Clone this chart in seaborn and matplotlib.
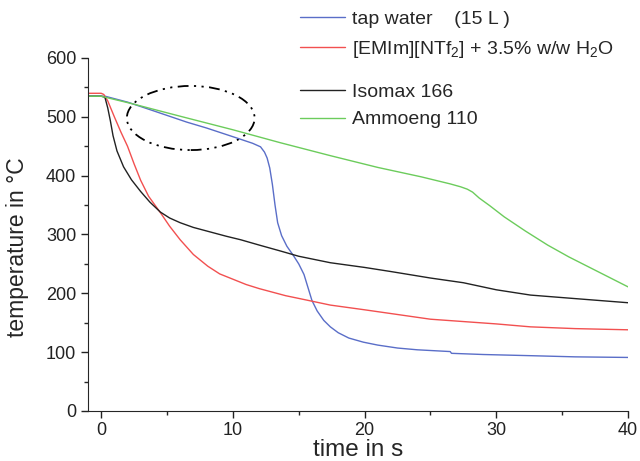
import pandas as pd
import matplotlib.pyplot as plt
import seaborn as sns
from matplotlib.patches import Ellipse
from matplotlib.lines import Line2D
from matplotlib.ticker import MultipleLocator

tap_x = [-1, 0, 0.3, 2, 4, 6.5, 8, 10.3, 11.5, 12.1, 12.4, 12.6, 12.8, 13.0, 13.2, 13.4, 13.7,
         14.1, 14.6, 15.0, 15.4, 15.7, 16.0, 16.4, 16.9, 17.4, 18.0, 18.8, 19.9, 21, 22.5, 24,
         26.5, 26.6, 29, 32.6, 36, 40]
tap_y = [535, 535, 535, 525, 510, 491, 481, 464, 455, 449, 440, 430, 413, 385, 350, 320, 298,
         280, 264, 250, 232, 210, 188, 170, 154, 143, 133, 124, 117, 112, 107, 104,
         101, 98, 96, 94, 92, 91]

emim_x = [-1, 0, 0.2, 0.5, 1.0, 1.5, 2.0, 2.5, 3.0, 3.6, 4.5, 5.2, 6, 7, 8.1, 9, 10, 11, 12,
          14, 15.5, 17.4, 20, 25, 30, 32.6, 36, 40]
emim_y = [540, 540, 538, 527, 500, 474, 450, 420, 392, 365, 337, 314, 291, 266, 246, 233, 224, 215, 208,
          196, 189, 180, 172, 156, 148, 143, 140, 138]

isomax_x = [-1, 0, 0.2, 0.3, 0.5, 0.7, 0.9, 1.2, 1.7, 2.3, 3.0, 3.7, 4.5, 5.2, 6, 7, 8.5, 9.5,
            10.6, 12, 13.6, 15, 17.4, 20, 22, 25, 27.5, 30, 32.6, 36, 40]
isomax_y = [535, 535, 534, 532, 515, 493, 468, 442, 415, 393, 373, 355, 338, 328, 320, 312, 303, 297,
            291, 282, 272, 263, 252, 244, 237, 226, 218, 206, 197, 191, 184]

ammoeng_x = [-1, 0, 2.4, 6, 10, 13.6, 17.4, 21, 24.3, 26.5, 27.3, 27.8, 28.2, 28.7, 29.5, 30.6,
             32.2, 33.9, 35.5, 37, 38.5, 40]
ammoeng_y = [535, 535, 522, 501, 478, 456, 434, 414, 398, 386, 381, 377, 372, 362, 349, 330,
             306, 282, 262, 245, 228, 211]

labels = ['tap water    (15 L )',
          '[EMIm][NTf$_2$] + 3.5% w/w H$_2$O',
          'Isomax 166',
          'Ammoeng 110']
colors = ['#5a6ec8', '#f25050', '#222222', '#6ccc5c']

frames = []
for lab, xs, ys in zip(labels, [tap_x, emim_x, isomax_x, ammoeng_x],
                       [tap_y, emim_y, isomax_y, ammoeng_y]):
    frames.append(pd.DataFrame({'time': xs, 'temp': ys, 'fluid': lab}))
df = pd.concat(frames, ignore_index=True)

sns.set_style('ticks')
plt.rcParams['font.family'] = ['Liberation Sans', 'DejaVu Sans']
plt.rcParams['mathtext.fontset'] = 'custom'
plt.rcParams['mathtext.rm'] = 'Liberation Sans'

fig = plt.figure(figsize=(6.4, 4.61), dpi=100)
ax = fig.add_axes([0.1375, 0.1085, 0.84375, 0.7657])

sns.lineplot(data=df, x='time', y='temp', hue='fluid', palette=dict(zip(labels, colors)),
             estimator=None, sort=False, linewidth=1.0, ax=ax, legend=False)

# dash-dot-dot ellipse marking the first region
ax.add_patch(Ellipse((6.8, 498), 9.7, 109, fill=False, edgecolor='black',
                     linewidth=1.3, linestyle=(0, (6, 3, 1.2, 3, 1.2, 3))))

ax.set_xlim(-1, 40)
ax.set_ylim(0, 600)
ax.xaxis.set_major_locator(MultipleLocator(10))
ax.xaxis.set_minor_locator(MultipleLocator(5))
ax.yaxis.set_major_locator(MultipleLocator(100))
ax.yaxis.set_minor_locator(MultipleLocator(50))
ax.tick_params(which='major', length=5, width=1, labelsize=13, colors='#222222')
ax.tick_params(which='minor', length=3, width=1)
ax.tick_params(axis='x', pad=3)
ax.set_xlabel('time in s', fontsize=17.5, labelpad=0)
ax.set_ylabel('temperature in °C', fontsize=16.5)
ax.yaxis.set_label_coords(-0.11, 0.465)
sns.despine(ax=ax)

# legend in two groups, like the original
handles = [Line2D([], [], color=c, linewidth=1.0) for c in colors]
fig.legend(handles[:2], labels[:2], loc='upper left', bbox_to_anchor=(0.469, 0.977),
           frameon=False, fontsize=14, handlelength=2.3, handletextpad=0.35,
           borderpad=0, borderaxespad=0, labelspacing=0.55)
fig.legend(handles[2:], labels[2:], loc='upper left', bbox_to_anchor=(0.469, 0.819),
           frameon=False, fontsize=14, handlelength=2.3, handletextpad=0.35,
           borderpad=0, borderaxespad=0, labelspacing=0.5)

fig.savefig('out.png', dpi=100)
